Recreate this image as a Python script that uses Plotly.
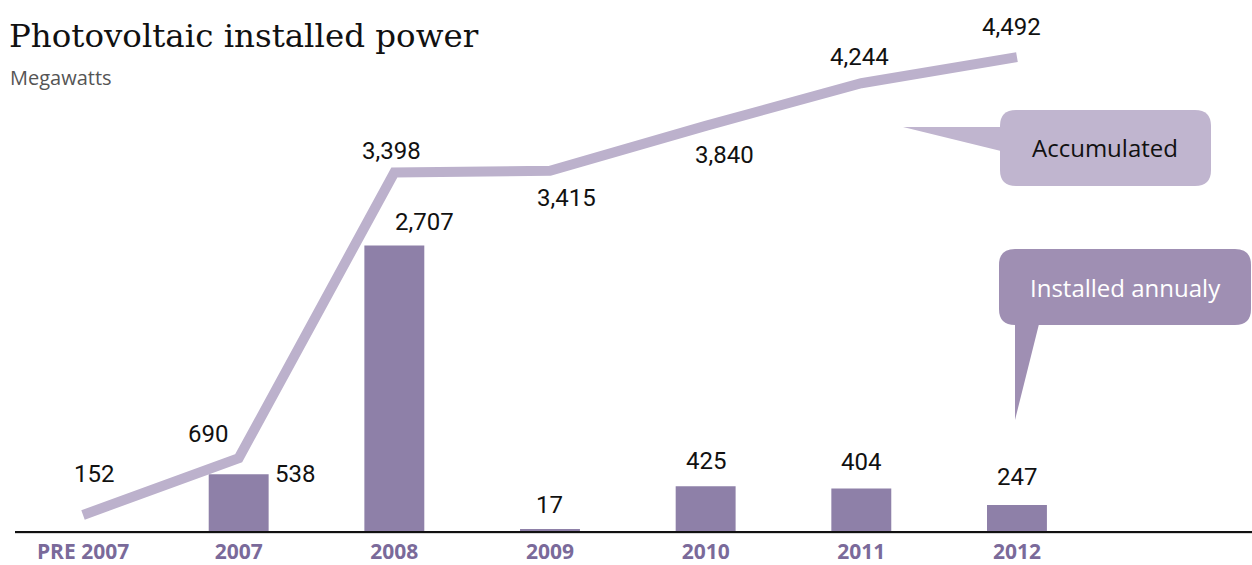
import plotly.graph_objects as go

categories = ["PRE 2007", "2007", "2008", "2009", "2010", "2011", "2012"]
accumulated = [152, 690, 3398, 3415, 3840, 4244, 4492]
annual_years = ["2007", "2008", "2009", "2010", "2011", "2012"]
annual = [538, 2707, 17, 425, 404, 247]

# label pixel offsets (dx, dy) relative to data point
acc_offsets = [(11, 41), (-31, 24), (-3, 22), (17, -27), (19, -29), (-2, 26), (-5, 30)]
ann_offsets = [(56, 0), (30, 23), (0, 24), (0, 25), (0, 26), (0, 28)]

W, H = 1252, 565
L, R, T, B = 15, 0, 0, 34
PW, PH = W - L - R, H - T - B

def px(x, y):
    return (x - L) / PW, (H - B - y) / PH

xi = {c: i for i, c in enumerate(categories)}
ax = [xi[c] for c in categories]
bx = [xi[c] for c in annual_years]

BAR = "#8e80a8"
LINE = "#bcb1cc"

fig = go.Figure()
fig.add_trace(go.Bar(x=bx, y=annual, width=0.385, marker=dict(color=BAR, line_width=0),
                     hoverinfo="skip"))
fig.add_trace(go.Scatter(x=ax, y=accumulated, mode="lines",
                         line=dict(color=LINE, width=10), hoverinfo="skip"))

annotations = []
numfont = dict(family="Roboto", size=24, color="#111111")
for x, v, (dx, dy) in zip(ax, accumulated, acc_offsets):
    annotations.append(dict(x=x, y=v, xref="x", yref="y", text=f"{v:,}", showarrow=False,
                            xanchor="center", yanchor="middle",
                            xshift=dx, yshift=dy, font=numfont))
for x, v, (dx, dy) in zip(bx, annual, ann_offsets):
    annotations.append(dict(x=x, y=v, xref="x", yref="y", text=f"{v:,}", showarrow=False,
                            xanchor="center", yanchor="middle",
                            xshift=dx, yshift=dy, font=numfont))

# title and subtitle
tx, ty = px(7, 36)
annotations.append(dict(x=tx, y=ty, xref="paper", yref="paper", xanchor="left", yanchor="middle",
                        text="Photovoltaic installed power", showarrow=False,
                        font=dict(family="DejaVu Serif", size=32.5, color="#111111")))
sx, sy = px(8, 78)
annotations.append(dict(x=sx, y=sy, xref="paper", yref="paper", xanchor="left", yanchor="middle",
                        text="Megawatts", showarrow=False,
                        font=dict(family="Open Sans", size=20, color="#555555")))

def rounded_box(x0, y0, x1, y1, r):
    def P(x, y):
        a, b = px(x, y)
        return f"{a:.5f},{b:.5f}"
    d = (f"M {P(x0 + r, y0)} L {P(x1 - r, y0)} Q {P(x1, y0)} {P(x1, y0 + r)} "
         f"L {P(x1, y1 - r)} Q {P(x1, y1)} {P(x1 - r, y1)} "
         f"L {P(x0 + r, y1)} Q {P(x0, y1)} {P(x0, y1 - r)} "
         f"L {P(x0, y0 + r)} Q {P(x0, y0)} {P(x0 + r, y0)} Z")
    return d

def poly(points):
    parts = []
    for i, (x, y) in enumerate(points):
        a, b = px(x, y)
        parts.append(("M " if i == 0 else "L ") + f"{a:.5f},{b:.5f}")
    return " ".join(parts) + " Z"

ACC_BOX = "#c0b5cf"
ANN_BOX = "#9f8fb3"
shapes = [
    dict(type="path", xref="paper", yref="paper", path=rounded_box(1000, 110, 1211, 186, 16),
         fillcolor=ACC_BOX, line_width=0, layer="above"),
    dict(type="path", xref="paper", yref="paper", path=poly([(903, 127), (1005, 127), (1005, 152)]),
         fillcolor=ACC_BOX, line_width=0, layer="above"),
    dict(type="path", xref="paper", yref="paper", path=rounded_box(999, 249, 1251, 325, 16),
         fillcolor=ANN_BOX, line_width=0, layer="above"),
    dict(type="path", xref="paper", yref="paper", path=poly([(1015, 320), (1040, 320), (1015, 420)]),
         fillcolor=ANN_BOX, line_width=0, layer="above"),
    dict(type="line", xref="paper", yref="paper", x0=0, x1=1, y0=px(0, 533)[1], y1=px(0, 533)[1],
         line=dict(color="#d6d6d6", width=2), layer="below"),
]

ax_, ay_ = px(1105, 147)
annotations.append(dict(x=ax_, y=ay_, xref="paper", yref="paper", text="Accumulated", showarrow=False,
                        xanchor="center", yanchor="middle",
                        font=dict(family="Open Sans", size=24, color="#111111")))
ix, iy = px(1125, 287)
annotations.append(dict(x=ix, y=iy, xref="paper", yref="paper", text="Installed annualy", showarrow=False,
                        xanchor="center", yanchor="middle",
                        font=dict(family="Open Sans", size=24, color="#ffffff")))

fig.update_layout(
    width=W, height=H, margin=dict(l=L, r=R, t=T, b=B, autoexpand=False),
    paper_bgcolor="white", plot_bgcolor="white", showlegend=False,
    xaxis=dict(range=[-0.437, 7.51], tickvals=list(range(len(categories))), ticktext=categories,
               showgrid=False, zeroline=False, showline=True, linecolor="#111111", linewidth=2,
               ticks="", ticklabelstandoff=1, automargin=False,
               tickfont=dict(family="Open Sans", size=21, color="#7a6a9a", weight="bold"),
               fixedrange=True),
    yaxis=dict(range=[0, 5033], visible=False, fixedrange=True, automargin=False),
    shapes=shapes, annotations=annotations,
)
fig.write_html("out.html", config={"displayModeBar": False},
               post_script="document.body.style.margin='0';document.body.style.overflow='hidden';")
